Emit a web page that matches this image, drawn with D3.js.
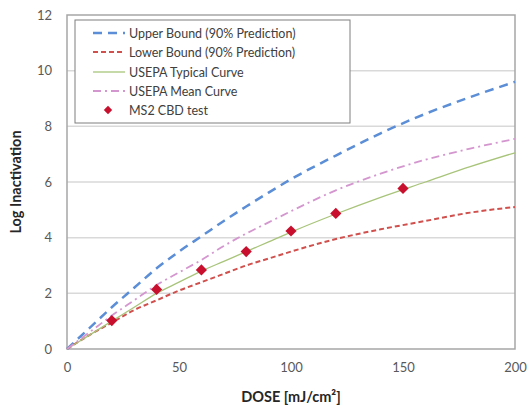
<!DOCTYPE html>
<html>
<head>
<meta charset="utf-8">
<script src="https://cdn.jsdelivr.net/npm/d3@7"></script>
<style>
  body { margin: 0; background: #fff; }
  text { font-family: Lato, "Open Sans", sans-serif; }
</style>
</head>
<body>
<div id="chart"></div>
<script>
// dose values (mJ/cm2) shared by the curves
const doses = [0, 10, 20, 30, 40, 50, 60, 70, 80, 90, 100, 120, 140, 160, 180, 200];
const upperBound = [0, 0.75, 1.5, 2.2, 2.9, 3.5, 4.05, 4.6, 5.12, 5.62, 6.1, 6.95, 7.75, 8.45, 9.05, 9.6];
const lowerBound = [0, 0.5, 0.95, 1.4, 1.75, 2.1, 2.4, 2.7, 3.0, 3.25, 3.5, 3.95, 4.3, 4.6, 4.9, 5.1];
const typicalCurve = [0, 0.5, 1.0, 1.5, 2.0, 2.4, 2.8, 3.15, 3.5, 3.85, 4.2, 4.85, 5.45, 6.0, 6.55, 7.05];
const meanCurve = [0, 0.6, 1.2, 1.75, 2.3, 2.75, 3.2, 3.7, 4.15, 4.55, 4.95, 5.7, 6.3, 6.8, 7.2, 7.55];

const testDose = [20, 40, 60, 80, 100, 120, 150];
const testLog = [1.02, 2.14, 2.84, 3.5, 4.24, 4.87, 5.77];

const xTicks = [0, 50, 100, 150, 200];
const yTicks = [0, 2, 4, 6, 8, 10, 12];

const width = 531, height = 411;
const margin = { top: 15, right: 16, bottom: 62, left: 67 };

const svg = d3.select('#chart').append('svg')
    .attr('width', width)
    .attr('height', height);

const x = d3.scaleLinear().domain([0, 200]).range([margin.left, width - margin.right]);
const y = d3.scaleLinear().domain([0, 12]).range([height - margin.bottom, margin.top]);

// gridlines
svg.append('g')
    .selectAll('line')
    .data(yTicks.filter(d => d > 0 && d < 12))
    .enter().append('line')
    .attr('x1', x(0)).attr('x2', x(200))
    .attr('y1', d => y(d)).attr('y2', d => y(d))
    .attr('stroke', '#d9d9d9')
    .attr('stroke-width', 1.5);

// axes (labels only, Excel style)
const xAxis = svg.append('g')
    .attr('transform', `translate(0,${y(0)})`)
    .call(d3.axisBottom(x).tickValues(xTicks).tickSize(0).tickPadding(14));
const yAxis = svg.append('g')
    .attr('transform', `translate(${x(0)},0)`)
    .call(d3.axisLeft(y).tickValues(yTicks).tickSize(0).tickPadding(15));
[xAxis, yAxis].forEach(a => {
    a.select('.domain').remove();
    a.selectAll('text')
        .style('font-size', '13px')
        .style('fill', '#595959')
        .style('font-family', 'Lato, "Open Sans", sans-serif');
});

// plot border
svg.append('rect')
    .attr('x', x(0)).attr('y', y(12))
    .attr('width', x(200) - x(0))
    .attr('height', y(0) - y(12))
    .attr('fill', 'none')
    .attr('stroke', '#a6a6a6')
    .attr('stroke-width', 1.5);

const series = [
    { name: 'Upper Bound (90% Prediction)', values: upperBound, color: '#5b8ed6', width: 2.5, dash: '9,6' },
    { name: 'Lower Bound (90% Prediction)', values: lowerBound, color: '#d0504d', width: 2, dash: '5,3' },
    { name: 'USEPA Typical Curve', values: typicalCurve, color: '#a8c47a', width: 1.3, dash: null },
    { name: 'USEPA Mean Curve', values: meanCurve, color: '#d496cf', width: 1.8, dash: '8,4,2,4' }
];

const line = d3.line()
    .x((d, i) => x(doses[i]))
    .y(d => y(d))
    .curve(d3.curveMonotoneX);

series.forEach(s => {
    svg.append('path')
        .datum(s.values)
        .attr('d', line)
        .attr('fill', 'none')
        .attr('stroke', s.color)
        .attr('stroke-width', s.width)
        .attr('stroke-dasharray', s.dash);
});

// test points as diamonds
const diamond = d3.symbol().type(d3.symbolDiamond2).size(80);
svg.append('g')
    .selectAll('path')
    .data(testDose)
    .enter().append('path')
    .attr('d', diamond)
    .attr('transform', (d, i) => `translate(${x(d)},${y(testLog[i])})`)
    .attr('fill', '#c8102e');

// legend
const legend = svg.append('g').attr('transform', 'translate(75,20)');
legend.append('rect')
    .attr('width', 275).attr('height', 103)
    .attr('fill', '#fff')
    .attr('stroke', '#7f7f7f')
    .attr('stroke-width', 1);

const items = series.map(s => s).concat([{ name: 'MS2 CBD test', marker: true }]);
const rowY = [13, 32, 52, 71, 90];
items.forEach((s, i) => {
    const g = legend.append('g').attr('transform', `translate(0,${rowY[i]})`);
    if (s.marker) {
        g.append('path')
            .attr('d', d3.symbol().type(d3.symbolDiamond2).size(45))
            .attr('transform', 'translate(33,0)')
            .attr('fill', '#c8102e');
    } else {
        g.append('line')
            .attr('x1', 18).attr('x2', 50)
            .attr('stroke', s.color)
            .attr('stroke-width', s.width)
            .attr('stroke-dasharray', s.dash);
    }
    g.append('text')
        .attr('x', 54).attr('y', 4.5)
        .style('font-size', '12.5px')
        .style('fill', '#404040')
        .text(s.name);
});

// axis titles
svg.append('text')
    .attr('x', x(100)).attr('y', 402)
    .attr('text-anchor', 'middle')
    .style('font-size', '14.5px')
    .style('font-weight', 'bold')
    .style('fill', '#262626')
    .text('DOSE [mJ/cm²]');

svg.append('text')
    .attr('transform', `translate(21,${(y(0) + y(12)) / 2}) rotate(-90)`)
    .attr('text-anchor', 'middle')
    .style('font-size', '14.5px')
    .style('font-weight', 'bold')
    .style('fill', '#262626')
    .text('Log Inactivation');
</script>
</body>
</html>
